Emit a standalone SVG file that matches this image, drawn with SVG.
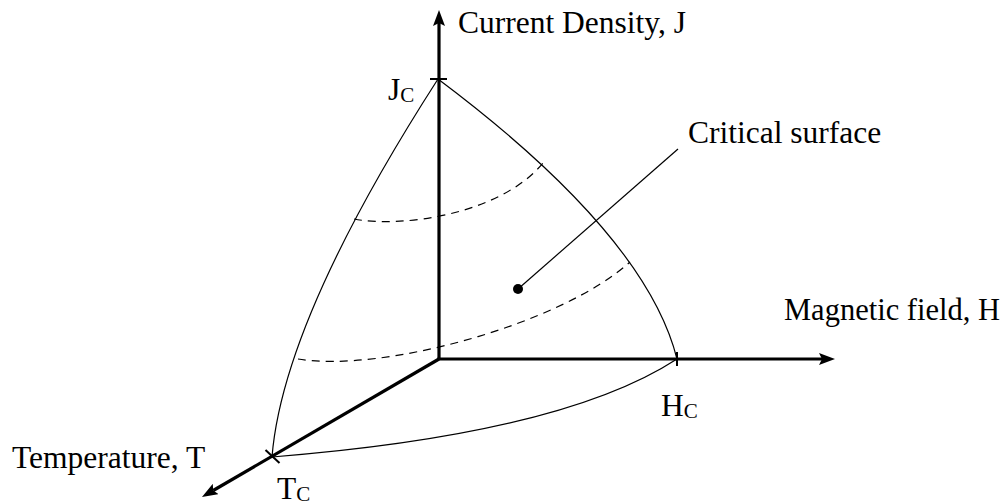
<svg xmlns="http://www.w3.org/2000/svg" width="1005" height="504" viewBox="0 0 1005 504">
<style>
.lbl{font-family:"Liberation Serif","Times New Roman",serif;font-size:31.5px;fill:#000}
.sub{font-size:21px}
.thin{fill:none;stroke:#000;stroke-width:1.2}
.dash{fill:none;stroke:#000;stroke-width:1.2;stroke-dasharray:8 6}
.axis{fill:none;stroke:#000;stroke-width:3.2}
.tick{fill:none;stroke:#000;stroke-width:2}
</style>
<defs>
<marker id="arr" viewBox="0 0 16 12" refX="3" refY="6" markerWidth="16" markerHeight="12" markerUnits="userSpaceOnUse" orient="auto">
<path d="M0,0 L16,6 L0,12 L3,6 z" fill="#000"/>
</marker>
</defs>
<g id="surface">
<path class="thin" d="M438,79 Q283,320 272,457"/>
<path class="thin" d="M438,79 Q646,235 677,359"/>
<path class="thin" d="M272,457 Q562,434 677,359"/>
<path class="dash" d="M354,219 C400,228 500,215 543,163"/>
<path class="dash" d="M298,359 C380,373 560,325 630,262"/>
</g>
<g id="connectors">
<line class="axis" x1="439" y1="359" x2="439" y2="23" marker-end="url(#arr)"/>
<line class="axis" x1="437.5" y1="359" x2="822" y2="359" marker-end="url(#arr)"/>
<line class="axis" x1="439" y1="359" x2="213.2" y2="490.5" marker-end="url(#arr)"/>
<line class="tick" x1="430" y1="79" x2="447" y2="79"/>
<line class="tick" x1="677" y1="352" x2="677" y2="366"/>
<line class="tick" x1="265.5" y1="450" x2="279.5" y2="463"/>
<line class="thin" x1="518" y1="289" x2="678" y2="149"/>
<circle cx="518" cy="289" r="5" fill="#000"/>
</g>
<g id="label-J"><text class="lbl" x="458" y="33">Current Density, J</text></g>
<g id="label-H"><text class="lbl" x="784" y="320" style="font-size:30.5px">Magnetic field, H</text></g>
<g id="label-T"><text class="lbl" x="12" y="468">Temperature, T</text></g>
<g id="label-critical"><text class="lbl" x="688" y="143">Critical surface</text></g>
<g id="label-Jc"><text class="lbl" x="388" y="100">J<tspan class="sub" dy="2">C</tspan></text></g>
<g id="label-Hc"><text class="lbl" x="661" y="416">H<tspan class="sub" dy="2">C</tspan></text></g>
<g id="label-Tc"><text class="lbl" x="277" y="499">T<tspan class="sub" dy="2">C</tspan></text></g>
</svg>
